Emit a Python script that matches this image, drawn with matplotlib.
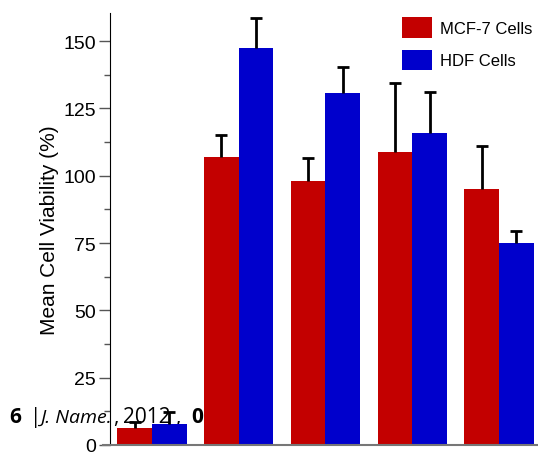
import numpy as np
import matplotlib.pyplot as plt
from matplotlib.ticker import MultipleLocator

plt.rcParams["font.family"] = ["Liberation Sans", "DejaVu Sans"]

# data
groups = np.arange(5)
mcf7_mean = [6.3, 107, 98, 108.8, 95]
mcf7_err = [2.2, 8, 8.5, 25.6, 16]
hdf_mean = [7.8, 147.4, 130.7, 115.9, 75]
hdf_err = [4.5, 11, 9.7, 15.2, 4.5]
series_labels = ["MCF-7 Cells", "HDF Cells"]

red = "#C30000"
blue = "#0000CC"
w = 0.40

W, H = 538, 456
fig = plt.figure(figsize=(W / 100, H / 100), dpi=100)
ax = fig.add_axes([103 / W, 10 / H, 1 - 103 / W, 432 / H])

for off, means, errs, col, lab in [(-w / 2, mcf7_mean, mcf7_err, red, series_labels[0]),
                                   (w / 2, hdf_mean, hdf_err, blue, series_labels[1])]:
    xs = groups + off
    tops = np.array(means) + np.array(errs)
    ax.bar(xs, means, w, color=col, label=lab, zorder=2)
    # upward-only error bars with a cap at the top
    ax.vlines(xs, means, tops, colors="black", linewidth=2, zorder=3)
    ax.plot(xs, tops, ls="none", marker="_", markersize=8, mew=2,
            color="black", zorder=3)

ax.set_xlim(-0.565, 4.45)
ax.set_ylim(0, 160.4)
ax.spines["top"].set_visible(False)
ax.spines["right"].set_visible(False)
ax.spines["left"].set_position(("data", -0.484))
ax.spines["left"].set_color("black")
ax.spines["bottom"].set_color("#777777")
ax.spines["bottom"].set_linewidth(1.5)
ax.set_xticks([])
ax.yaxis.set_major_locator(MultipleLocator(25))
ax.yaxis.set_minor_locator(MultipleLocator(12.5))
ax.tick_params(axis="y", which="major", length=8, width=1, color="#555555",
               labelsize=14, pad=2)
ax.tick_params(axis="y", which="minor", length=4, width=1, color="#555555")
ax.set_ylabel("Mean Cell Viability (%)", fontsize=15, labelpad=3)

ax.legend(loc="upper left", bbox_to_anchor=(402 / W, 1 - 18 / H),
          bbox_transform=fig.transFigure, frameon=False, fontsize=12,
          borderpad=0, borderaxespad=0, handlelength=1.8, handleheight=1.55,
          labelspacing=0.7, handletextpad=0.5)

# journal footer overlapping the figure (drawn behind the bars)
footer = [("6", 9, "bold", "normal", 15), ("|", 30, "normal", "normal", 15),
          ("J. Name.", 40, "normal", "italic", 14), (",", 113, "normal", "normal", 15),
          ("2012", 123, "normal", "normal", 15), (",", 175, "normal", "normal", 15),
          ("0", 191, "bold", "normal", 15)]
for txt, x_px, weight, style, size in footer:
    ax.text(x_px, H - 418, txt, fontsize=size, fontweight=weight,
            fontstyle=style, family="Open Sans", zorder=1,
            clip_on=False, va="center", transform=None)

fig.savefig("out.png", dpi=100)
